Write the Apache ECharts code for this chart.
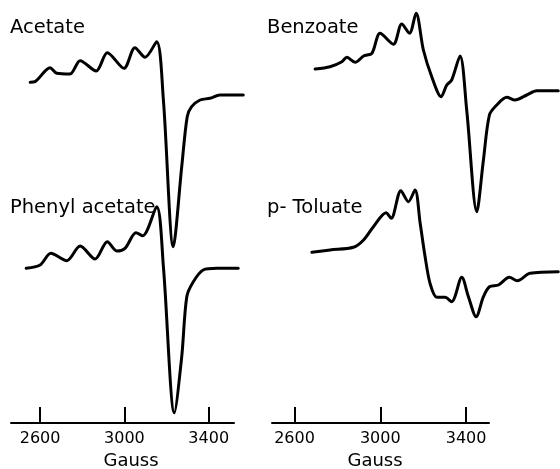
<!DOCTYPE html>
<html>
<head>
<meta charset="utf-8">
<script src="https://cdn.jsdelivr.net/npm/echarts@6/dist/echarts.min.js"></script>
<style>
  html, body { margin: 0; padding: 0; background: #fff; }
  #chart { width: 560px; height: 469px; }
</style>
</head>
<body>
<div id="chart"></div>
<script>
// ESR derivative spectra, field in Gauss, intensity in arbitrary units (relative to the high-field baseline)
const tickValues = [2600, 3000, 3400];

const acetateField = [2553, 2576, 2647, 2679, 2742, 2790, 2866, 2919, 2998, 3050, 3098, 3153, 3185, 3232, 3272, 3298, 3319, 3359, 3406, 3453, 3564];
const acetateSignal = [12.7, 13.3, 27.3, 21.7, 21, 34.3, 24, 42.3, 26.7, 47.3, 37.7, 53.3, -5, -151.7, -71.7, -21.7, -11.7, -5, -3.3, 0, 0];

const phenylField = [2534, 2600, 2651, 2727, 2790, 2861, 2919, 2964, 3003, 3055, 3087, 3153, 3185, 3237, 3272, 3296, 3327, 3374, 3438, 3540];
const phenylSignal = [0, 3.3, 15, 7.6, 22.3, 9.3, 26.6, 17.3, 20, 35.6, 32.6, 61.6, 1.6, -144.4, -88.4, -28.4, -13.4, -1.7, 0, 0];

const benzoateField = [2696, 2766, 2821, 2844, 2883, 2922, 2961, 2999, 3061, 3100, 3136, 3167, 3201, 3240, 3284, 3310, 3333, 3372, 3403, 3450, 3481, 3509, 3543, 3590, 3628, 3683, 3730, 3830];
const benzoateSignal = [21.7, 24, 29, 33.4, 28.4, 34.7, 37.4, 57.4, 46.4, 66.7, 57.4, 77.4, 40.7, 14, -6, 5.7, 10.7, 34.7, -19.3, -121, -69.3, -24.3, -14.3, -6.6, -9.3, -4.3, 0, 0];

const toluateField = [2681, 2766, 2875, 2922, 2968, 3027, 3051, 3096, 3131, 3162, 3186, 3209, 3232, 3264, 3302, 3333, 3380, 3411, 3447, 3481, 3509, 3551, 3602, 3639, 3698, 3830];
const toluateSignal = [19.4, 21.7, 24.4, 31.7, 45, 59, 53.4, 81, 70, 81.7, 48.4, 15, -11.6, -25.6, -25.6, -30, -5.6, -25, -45, -25, -15, -13.3, -5.6, -9, -1.6, 0];

const FONT = 'DejaVu Sans';
const INK = '#000';

// Each panel uses two grids sharing one field scale: the axis grid carries the
// ruled field axis, the trace grid is wider so spectra may run past the axis end.
const panels = [
  { left: 11, axisMin: 2462, axisMax: 3520, axisWidth: 223, traceMax: 3580, namePad: [0, 0, 0, 17] },
  { left: 272, axisMin: 2495, axisMax: 3507, axisWidth: 217, traceMax: 3840, namePad: [0, 11, 0, 0] }
];
const PLOT_TOP = 0, PLOT_HEIGHT = 423, INTENSITY_MAX = 423;

function traceWidth(p) {
  return p.axisWidth * (p.traceMax - p.axisMin) / (p.axisMax - p.axisMin);
}

function gridBox(left, width) {
  return { left: left, top: PLOT_TOP, width: width, height: PLOT_HEIGHT, outerBoundsMode: 'none', containLabel: false };
}

// stack each spectrum at its own vertical baseline within a panel
function trace(field, signal, base, panel) {
  return {
    type: 'line',
    xAxisIndex: 2 + panel,
    yAxisIndex: 2 + panel,
    data: field.map((g, i) => [g, base + signal[i]]),
    showSymbol: false,
    smooth: 0.3,
    clip: false,
    silent: true,
    lineStyle: { color: INK, width: 3, join: 'round', cap: 'round' }
  };
}

function fieldAxis(i, p) {
  return {
    type: 'value',
    gridIndex: i,
    min: p.axisMin,
    max: p.axisMax,
    name: 'Gauss',
    nameLocation: 'middle',
    nameGap: 28,
    nameTextStyle: { fontFamily: FONT, fontSize: 18, color: INK, padding: p.namePad },
    axisLine: { show: true, lineStyle: { color: INK, width: 2 } },
    axisTick: { show: true, inside: true, length: 16, lineStyle: { color: INK, width: 2 }, customValues: tickValues },
    axisLabel: { fontFamily: FONT, fontSize: 16, color: INK, margin: 8, customValues: tickValues, formatter: v => String(v) },
    splitLine: { show: false }
  };
}

function traceAxis(i, p) {
  return { type: 'value', gridIndex: i, min: p.axisMin, max: p.traceMax, show: false };
}

function intensityAxis(i) {
  return { type: 'value', gridIndex: i, min: 0, max: INTENSITY_MAX, show: false };
}

function title(text, x, y) {
  return {
    type: 'text', left: x, top: y,
    style: { text: text, font: '19.5px "DejaVu Sans"', fill: INK }
  };
}

const chart = echarts.init(document.getElementById('chart'), null, { renderer: 'canvas' });
chart.setOption({
  animation: false,
  backgroundColor: '#fff',
  grid: [
    gridBox(panels[0].left, panels[0].axisWidth),
    gridBox(panels[1].left, panels[1].axisWidth),
    gridBox(panels[0].left, traceWidth(panels[0])),
    gridBox(panels[1].left, traceWidth(panels[1]))
  ],
  xAxis: [
    fieldAxis(0, panels[0]), fieldAxis(1, panels[1]),
    traceAxis(2, panels[0]), traceAxis(3, panels[1])
  ],
  yAxis: [intensityAxis(0), intensityAxis(1), intensityAxis(2), intensityAxis(3)],
  graphic: [
    title('Acetate', 10, 18),
    title('Benzoate', 267, 18),
    title('Phenyl acetate', 10, 198),
    title('p- Toluate', 267, 198)
  ],
  series: [
    trace(acetateField, acetateSignal, 328, 0),
    trace(phenylField, phenylSignal, 154.7, 0),
    trace(benzoateField, benzoateSignal, 332.3, 1),
    trace(toluateField, toluateSignal, 151.3, 1)
  ]
});
</script>
</body>
</html>
